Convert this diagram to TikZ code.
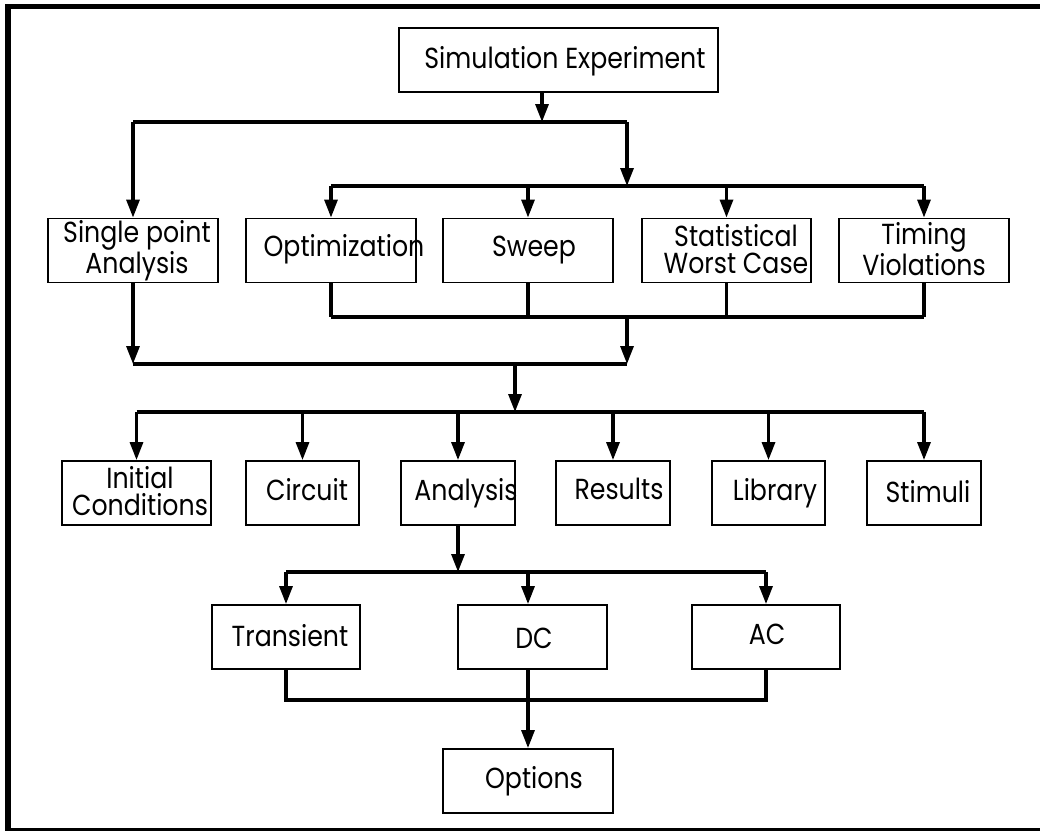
\documentclass[tikz,border=0pt]{standalone}
\usepackage{fontspec}
\setmainfont{Poppins}[FakeStretch=0.87]
\usetikzlibrary{arrows.meta}
\tikzset{
  box/.style={draw, line width=1.9pt, inner sep=0pt, minimum height=64pt},
  txt/.style={inner sep=0pt, font=\fontsize{29}{27}\selectfont, align=center},
  conn/.style={line width=3.2pt},
  arr/.style={line width=3.2pt, -{Triangle[length=18pt,width=13pt]}},
}
\begin{document}
\begin{tikzpicture}[x=1pt,y=-1pt]
\useasboundingbox (0,0) rectangle (1040,830);
\clip (0,0) rectangle (1040,830);
% frame
\draw[line width=5.5pt] (8,6.5) rectangle (1060,831);
% boxes
\node[box, minimum width=319pt] (sim) at (558.5,60) {};
\node[box, minimum width=170pt] (spa) at (133,250.5) {};
\node[box, minimum width=170pt] (opt) at (331,250.5) {};
\node[box, minimum width=170pt] (swp) at (528,250.5) {};
\node[box, minimum width=169pt] (stat) at (726.5,250.5) {};
\node[box, minimum width=170pt] (tim) at (924,250.5) {};
\node[box, minimum width=149pt] (ic) at (136.5,493) {};
\node[box, minimum width=113pt] (cir) at (302.5,493) {};
\node[box, minimum width=114pt] (ana) at (458,493) {};
\node[box, minimum width=114pt] (res) at (613,493) {};
\node[box, minimum width=113pt] (lib) at (768.5,493) {};
\node[box, minimum width=114pt] (sti) at (924,493) {};
\node[box, minimum width=148pt] (tra) at (286,637) {};
\node[box, minimum width=149pt] (dc) at (532.5,637) {};
\node[box, minimum width=148pt] (ac) at (766,637) {};
\node[box, minimum width=170pt] (opts) at (528,781) {};
% texts
\node[txt, anchor=base] (sim-t) at (565,68) {Simulation Experiment};
\node[txt] (spa-t) at (137,251) {Single point\\Analysis};
\node[txt, anchor=base] (opt-t) at (344,256) {Optimization};
\node[txt, anchor=base] (swp-t) at (534,256) {Sweep};
\node[txt] (stat-t) at (736,249.5) {Statistical\\Worst Case};
\node[txt] (tim-t) at (924,249.5) {Timing\\Violations};
\node[txt] (ic-t) at (140,491) {Initial\\Conditions};
\node[txt, anchor=base] (cir-t) at (307,500) {Circuit};
\node[txt, anchor=base] (ana-t) at (466,500) {Analysis};
\node[txt, anchor=base] (res-t) at (619,499) {Results};
\node[txt, anchor=base] (lib-t) at (775,500) {Library};
\node[txt, anchor=base] (sti-t) at (928,502) {Stimuli};
\node[txt, anchor=base] (tra-t) at (290,646) {Transient};
\node[txt, anchor=base] (dc-t) at (534,648) {DC};
\node[txt, anchor=base] (ac-t) at (767,644) {AC};
\node[txt, anchor=base] (opts-t) at (534,788) {Options};
% junction coordinates
\coordinate (j1) at (542,122);
\coordinate (j1r) at (627,122);
\coordinate (j2) at (627,186);
\coordinate (j3) at (627,317);
\coordinate (j4) at (627,364);
\coordinate (j4m) at (515,364);
\coordinate (j5) at (515,412);
\coordinate (j6) at (458,572);
\coordinate (j6d) at (528,572);
\coordinate (j7) at (528,700);
% level 1
\draw[arr] (sim.south -| j1) -- (j1);
\draw[conn] (spa.north |- j1) -- (j1r);
\draw[arr] (spa.north |- j1) -- (spa.north);
\draw[arr] (j1r) -- (j2);
% level 2 bus
\draw[conn] (opt.north |- j2) -- (tim.north |- j2);
\foreach \n in {opt,swp,stat,tim} \draw[arr] (\n.north |- j2) -- (\n.north);
% collect
\draw[conn] (opt.south |- j3) -- (tim.south |- j3);
\foreach \n in {opt,swp,stat,tim} \draw[conn] (\n.south) -- (\n.south |- j3);
\draw[arr] (j3) -- (j4);
\draw[arr] (spa.south) -- (spa.south |- j4);
\draw[conn] (spa.south |- j4) -- (j4);
\draw[arr] (j4m) -- (j5);
% level 3
\draw[conn] (ic.north |- j5) -- (sti.north |- j5);
\foreach \n in {ic,cir,ana,res,lib,sti} \draw[arr] (\n.north |- j5) -- (\n.north);
% analysis
\draw[arr] (ana.south) -- (j6);
\draw[conn] (tra.north |- j6) -- (ac.north |- j6);
\draw[arr] (tra.north |- j6) -- (tra.north);
\draw[arr] (j6d) -- (dc.north -| j6d);
\draw[arr] (ac.north |- j6) -- (ac.north);
% options
\draw[conn] (tra.south) -- (tra.south |- j7) -- (ac.south |- j7) -- (ac.south);
\draw[arr] (dc.south -| j7) -- (opts.north);
\end{tikzpicture}
\end{document}
